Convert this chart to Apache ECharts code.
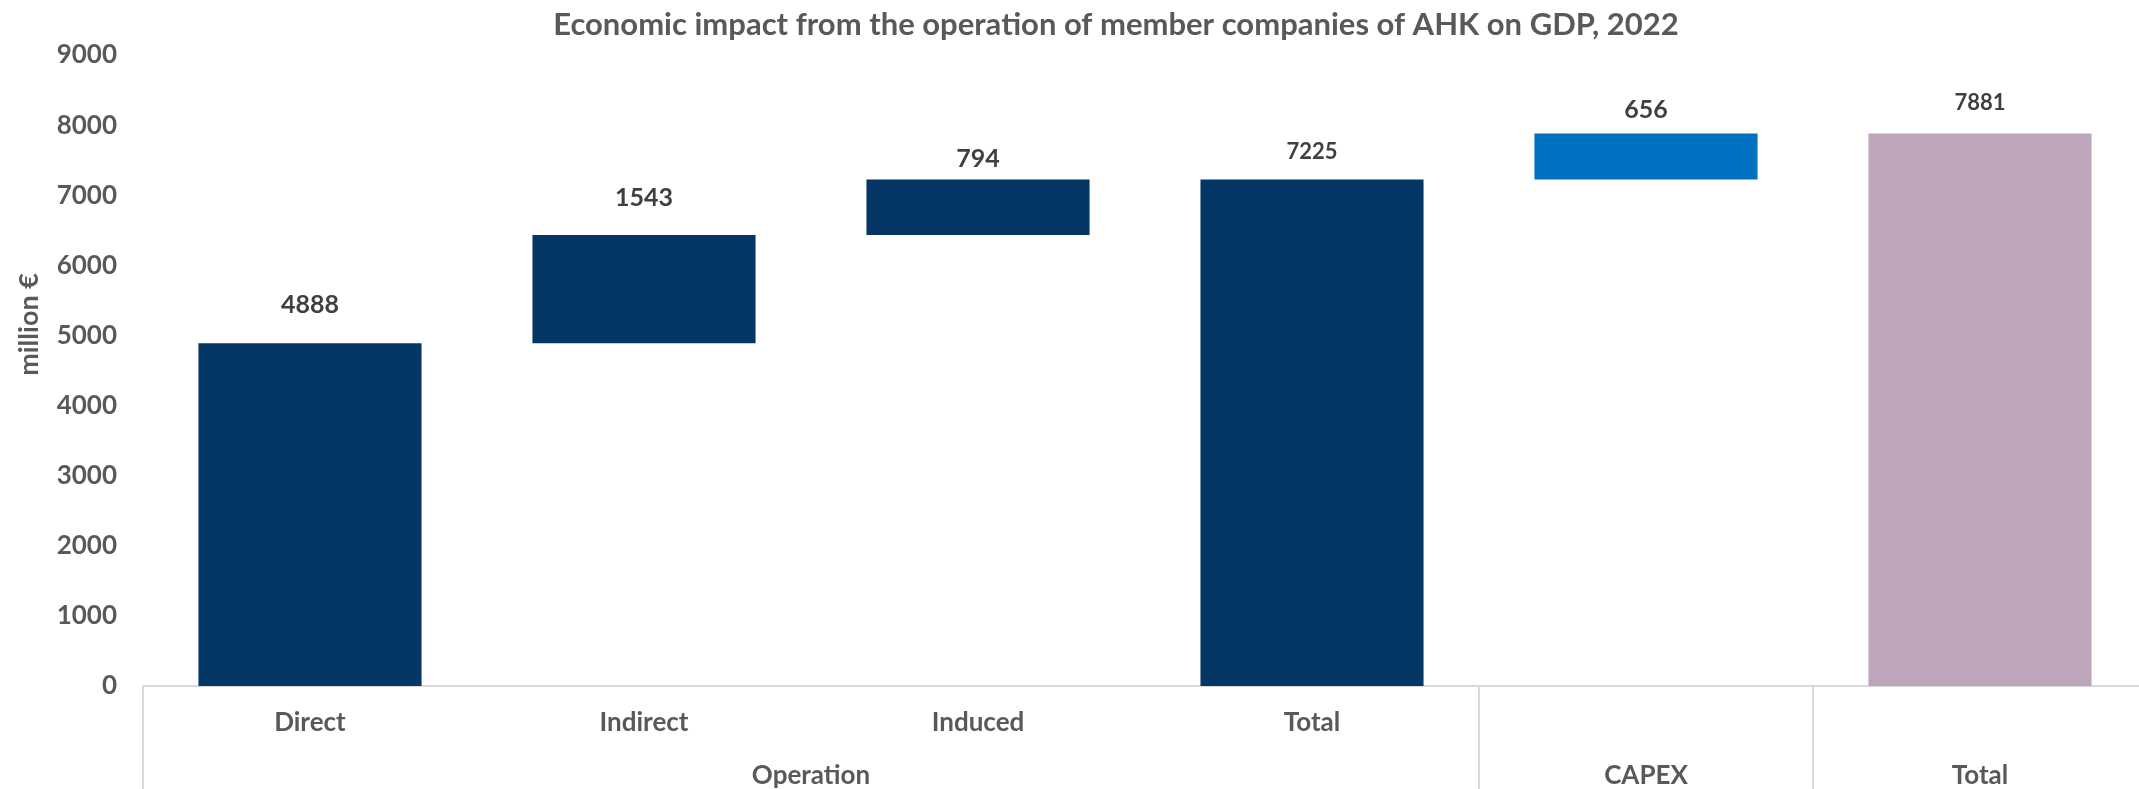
<!DOCTYPE html>
<html>
<head>
<meta charset="utf-8">
<script src="https://cdn.jsdelivr.net/npm/echarts@6/dist/echarts.min.js"></script>
<style>
html,body{margin:0;padding:0;background:#fff;}
#chart{width:2139px;height:789px;}
</style>
</head>
<body>
<div id="chart"></div>
<script>
// ---- data ----
var categories = ['Direct', 'Indirect', 'Induced', 'Total', '', ''];
var values = [4888, 1543, 794, 7225, 656, 7881];
var isTotal = [false, false, false, true, false, true];
var groups = ['Operation', 'CAPEX', 'Total'];
var groupSpans = [4, 1, 1];
var yTicks = [0, 1000, 2000, 3000, 4000, 5000, 6000, 7000, 8000, 9000];

// ---- styles ----
var barColors = ['#043666', '#043666', '#043666', '#043666', '#0070c0', '#bda6bc'];
var labelSizes = [25, 25, 25, 22, 25, 22];
var labelDist = [26, 25, 8, 17, 11, 20];

// waterfall bases
var bases = [];
var running = 0;
for (var i = 0; i < values.length; i++) {
  if (isTotal[i]) { bases.push(0); running = values[i]; }
  else { bases.push(running); running += values[i]; }
}

// group positions on a 0..N scale
var groupBounds = [0];
var groupCenters = [];
var acc = 0;
for (var g = 0; g < groupSpans.length; g++) {
  groupCenters.push(acc + groupSpans[g] / 2);
  acc += groupSpans[g];
  groupBounds.push(acc);
}

var FONT = 'Lato';
var chart = echarts.init(document.getElementById('chart'), null, {renderer: 'canvas'});

var option = {
  backgroundColor: '#ffffff',
  animation: false,
  title: {
    text: 'Economic impact from the operation of member companies of AHK on GDP, 2022',
    left: 1111,
    textAlign: 'center',
    top: 4,
    textStyle: {fontFamily: FONT, fontWeight: 'bold', fontSize: 31, color: '#595959'}
  },
  grid: {left: 143, top: 55, width: 2004, bottom: 103, containLabel: false, outerBoundsMode: 'none'},
  xAxis: [
    {
      type: 'category',
      data: categories,
      position: 'bottom',
      axisLine: {show: true, lineStyle: {color: '#d9d9d9', width: 2}},
      axisTick: {show: false},
      axisLabel: {margin: 24, fontFamily: FONT, fontWeight: 'bold', fontSize: 26, color: '#595959'},
      splitLine: {show: false}
    },
    {
      type: 'value',
      min: 0,
      max: categories.length,
      position: 'bottom',
      axisLine: {show: false},
      axisTick: {show: true, customValues: groupBounds, inside: false, length: 110,
                 lineStyle: {color: '#d9d9d9', width: 2}},
      axisLabel: {
        show: true, customValues: groupCenters, margin: 77,
        fontFamily: FONT, fontWeight: 'bold', fontSize: 26, color: '#595959',
        formatter: function (v) {
          for (var k = 0; k < groupCenters.length; k++) {
            if (Math.abs(groupCenters[k] - v) < 1e-6) return groups[k];
          }
          return '';
        }
      },
      splitLine: {show: false}
    }
  ],
  yAxis: {
    type: 'value',
    min: yTicks[0],
    max: yTicks[yTicks.length - 1],
    interval: yTicks[1] - yTicks[0],
    name: 'million €',
    nameLocation: 'middle',
    nameRotate: 90,
    nameGap: 100,
    nameTextStyle: {fontFamily: FONT, fontWeight: 'bold', fontSize: 27, color: '#595959', padding: [0, 0, 0, 92]},
    axisLine: {show: false},
    axisTick: {show: false},
    splitLine: {show: false},
    axisLabel: {margin: 26, fontFamily: FONT, fontWeight: 'bold', fontSize: 26, color: '#595959',
                formatter: function (v) { return String(v); }}
  },
  series: [
    {
      type: 'bar',
      stack: 'wf',
      xAxisIndex: 0,
      silent: true,
      itemStyle: {color: 'rgba(0,0,0,0)'},
      data: bases,
      barWidth: '66.8%'
    },
    {
      type: 'bar',
      stack: 'wf',
      xAxisIndex: 0,
      barWidth: '66.8%',
      data: values.map(function (v, i) {
        return {
          value: v,
          itemStyle: {color: barColors[i]},
          label: {
            show: true, position: 'top', distance: labelDist[i],
            fontFamily: FONT, fontWeight: 'bold', fontSize: labelSizes[i], color: '#404040'
          }
        };
      })
    }
  ]
};
chart.setOption(option);
</script>
</body>
</html>
